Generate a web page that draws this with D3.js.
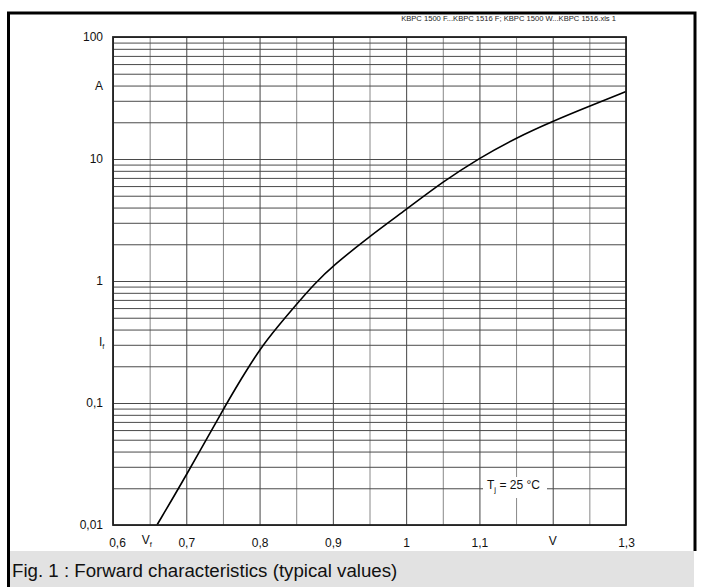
<!DOCTYPE html>
<html>
<head>
<meta charset="utf-8">
<script src="https://cdn.jsdelivr.net/npm/d3@7.9.0/dist/d3.min.js"></script>
<style>
  body { margin: 0; background: #fff; }
  svg { display: block; font-family: "Liberation Sans", Arial, sans-serif; }
</style>
</head>
<body>
<svg id="chart" width="702" height="587"></svg>
<script>
// forward voltage (V) vs forward current (A)
const voltage = [0.660, 0.70, 0.75, 0.775, 0.80, 0.825, 0.85, 0.875, 0.90, 0.95, 1.00, 1.05, 1.10, 1.15, 1.20, 1.25, 1.30];
const current = [0.01, 0.0255, 0.088, 0.158, 0.275, 0.425, 0.64, 0.95, 1.33, 2.32, 3.85, 6.5, 10.2, 14.9, 20.4, 27.1, 35.7];

const xTickValues = [0.6, 0.7, 0.8, 0.9, 1, 1.1, 1.3];
const yTickValues = [0.01, 0.1, 1, 10, 100];

const header = 'KBPC 1500 F...KBPC 1516 F; KBPC 1500 W...KBPC 1516.xls 1';
const caption = 'Fig. 1 : Forward characteristics (typical values)';

const svg = d3.select('#chart');
const plotLeft = 113, plotRight = 626, plotTop = 37, plotBottom = 525;

let x = d3.scaleLinear().domain([0.6, 1.3]).range([plotLeft, plotRight]);
let y = d3.scaleLog().domain([0.01, 100]).range([plotBottom, plotTop]);

const comma = (d) => String(d).replace('.', ',');

// frame + caption band
svg.append('rect').attr('x', 10).attr('y', 551).attr('width', 684).attr('height', 36).attr('fill', '#e2e2e2');
svg.append('path')
  .attr('d', 'M8.5,587 V13 H695 V551')
  .attr('fill', 'none').attr('stroke', '#000').attr('stroke-width', 3);

svg.append('text').attr('x', 616).attr('y', 21).attr('text-anchor', 'end')
  .attr('font-size', 7.6).attr('fill', '#222').text(header);

// grid
let grid = svg.append('g');
grid.append('g')
  .attr('transform', `translate(0,${plotBottom})`)
  .call(d3.axisBottom(x).ticks(14).tickSize(-(plotBottom - plotTop)).tickFormat(''))
  .call(g => g.select('.domain').remove())
  .call(g => g.selectAll('line').attr('stroke', (d) => Math.round(d * 100) % 10 === 0 ? '#444' : '#888'));
grid.append('g')
  .attr('transform', `translate(${plotLeft},0)`)
  .call(d3.axisLeft(y).tickSize(-(plotRight - plotLeft)).tickFormat(''))
  .call(g => g.select('.domain').remove())
  .call(g => g.selectAll('line').attr('stroke', '#4a4a4a'));

// Tj label box hides grid
svg.append('rect').attr('x', 483).attr('y', 477).attr('width', 64).attr('height', 21).attr('fill', '#fff');
let tj = svg.append('text').attr('x', 487).attr('y', 489).attr('font-size', 12).attr('fill', '#111');
tj.append('tspan').text('T');
tj.append('tspan').attr('font-size', 8).attr('dy', 3).text('j');
tj.append('tspan').attr('dy', -3).text(' = 25 \u00b0C');

// curve
let pts = voltage.map((v, i) => [v, current[i]]);
svg.append('path')
  .datum(pts)
  .attr('fill', 'none').attr('stroke', '#000').attr('stroke-width', 1.6)
  .attr('d', d3.line().x(d => x(d[0])).y(d => y(d[1])).curve(d3.curveBasis));

// plot border
svg.append('rect').attr('x', plotLeft).attr('y', plotTop).attr('width', plotRight - plotLeft).attr('height', plotBottom - plotTop)
  .attr('fill', 'none').attr('stroke', '#222').attr('stroke-width', 1.8);

// axes labels
svg.append('g')
  .attr('transform', `translate(0,${plotBottom + 10.5})`)
  .call(d3.axisBottom(x).tickValues(xTickValues).tickSize(0).tickFormat(comma))
  .call(g => g.select('.domain').remove())
  .call(g => g.selectAll('text').attr('font-size', 12).attr('font-family', null).attr('fill', '#111')
    .attr('dx', (d) => d === 0.6 ? 4 : 0));
svg.append('g')
  .attr('transform', `translate(${plotLeft - 7},0)`)
  .call(d3.axisLeft(y).tickValues(yTickValues).tickSize(0).tickFormat(comma))
  .call(g => g.select('.domain').remove())
  .call(g => g.selectAll('text').attr('font-size', 12).attr('font-family', null).attr('fill', '#111'));

svg.append('text').attr('x', 103).attr('y', y(40) + 4).attr('text-anchor', 'end')
  .attr('font-size', 12).attr('fill', '#111').text('A');
let iF = svg.append('text').attr('x', 99).attr('y', y(0.316) + 4).attr('font-size', 12).attr('fill', '#111');
iF.append('tspan').text('I');
iF.append('tspan').attr('font-size', 7.5).attr('dy', 3).text('f');

let vF = svg.append('text').attr('x', x(0.65) - 8).attr('y', plotBottom + 19).attr('font-size', 12).attr('fill', '#111');
vF.append('tspan').text('V');
vF.append('tspan').attr('font-size', 7.5).attr('dy', 3).text('f');
svg.append('text').attr('x', x(1.2)).attr('y', plotBottom + 20).attr('text-anchor', 'middle')
  .attr('font-size', 12).attr('fill', '#111').text('V');

svg.append('text').attr('x', 12).attr('y', 577).attr('font-size', 18.7).attr('fill', '#111').text(caption);
</script>
</body>
</html>
